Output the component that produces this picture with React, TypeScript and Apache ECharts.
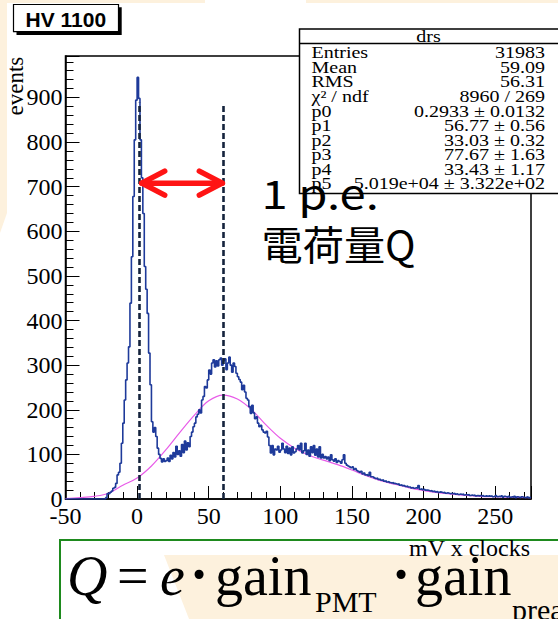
import { useEffect, useRef } from "react";
import * as echarts from "echarts";

// ---- histogram "drs" (bin width 1, from -50) ----
const binStart = -50;
const binWidth = 1;
const counts: number[] = [
  0, 0, 0, 0, 0, 0, 0, 0, 0, 0,
  0, 0, 0, 0, 0, 0, 0, 0, 0, 0,
  0, 0, 0, 0, 0, 0, 0, 0, 3, 12,
  12, 15, 18, 24, 26, 35, 54, 60, 80, 125,
  170, 222, 267, 305, 341, 439, 543, 678, 805, 894,
  945, 898, 805, 720, 640, 521, 470, 416, 327, 256,
  173, 150, 160, 140, 114, 100, 91, 83, 90, 84,
  86, 92, 84, 98, 90, 104, 94, 118, 100, 108,
  96, 122, 104, 130, 110, 126, 117, 140, 150, 162,
  170, 184, 190, 200, 193, 222, 230, 252, 249, 267,
  289, 280, 305, 312, 296, 310, 298, 312, 316, 300,
  310, 314, 290, 305, 318, 300, 284, 305, 297, 282,
  274, 268, 262, 245, 255, 240, 226, 222, 207, 192,
  210, 193, 180, 184, 170, 162, 165, 155, 150, 148,
  152, 139, 120, 103, 120, 99, 112, 110, 118, 105,
  110, 125, 112, 104, 118, 102, 114, 99, 117, 103,
  106, 112, 120, 110, 125, 103, 108, 125, 100, 110,
  96, 117, 104, 120, 98, 112, 94, 117, 92, 100,
  92, 95, 90, 94, 86, 99, 88, 85, 90, 82,
  86, 84, 80, 88, 99, 80, 76, 74, 72, 70,
  72, 66, 68, 64, 62, 60, 62, 56, 58, 54,
  55, 52, 60, 50, 50, 48, 46, 47, 44, 44,
  42, 43, 40, 41, 38, 39, 37, 36, 37, 35,
  34, 33, 34, 31, 32, 30, 30, 28, 29, 27,
  27, 25, 26, 24, 25, 24, 30, 22, 23, 21,
  22, 20, 20, 19, 18, 19, 17, 18, 16, 17,
  15, 16, 15, 14, 15, 13, 14, 13, 12, 13,
  12, 13, 11, 12, 10, 11, 10, 11, 9, 10,
  9, 10, 8, 9, 8, 9, 7, 8, 7, 8,
  7, 8, 6, 7, 6, 7, 6, 7, 5, 6,
  8, 5, 6, 5, 7, 4, 6, 5, 4, 6,
  4, 5, 4, 6, 3, 5, 4, 3, 5, 4,
  3, 4, 5, 3, 4,
];

// ---- fit curve ----
const fitX = [-50, -40, -30, -20, -10, 0, 10, 20, 30, 40, 50, 60, 70, 80, 90, 100, 110,
  120, 130, 140, 150, 160, 170, 180, 190, 200, 210, 220, 230, 240, 250, 260, 275];
const fitY = [1, 3, 6, 13, 31, 47, 74, 110, 150, 188, 220, 233, 224, 200, 166, 136, 114,
  98, 87, 77, 65, 52, 41, 33, 25, 19, 14, 11, 8, 6, 5, 4, 3];

// ---- axes ----
const xMin = -50, xMax = 275, xStep = 50;
const yMin = 0, yMax = 993, yStep = 100;
const xTickLabels = [-50, 0, 50, 100, 150, 200, 250];
const yTickLabels = [0, 100, 200, 300, 400, 500, 600, 700, 800, 900];

// ---- annotations ----
const peakX = [1.5, 60];
const peakTop = [888, 882];
const arrowFrom = 3.2;
const arrowTo = 59.5;
const arrowLevel = 708;

// ---- stats box ----
const statTitle = "drs";
const statLabels = ["Entries", "Mean", "RMS", "χ² / ndf", "p0", "p1", "p2", "p3", "p4", "p5"];
const statValues = ["31983", "59.09", "56.31", "8960 / 269", "0.2933 ± 0.0132", "56.77 ± 0.56",
  "33.03 ± 0.32", "77.67 ± 1.63", "33.43 ± 1.17", "5.019e+04 ± 3.322e+02"];

const serif = "Liberation Serif, serif";
const cjk = "Noto Sans CJK JP, sans-serif";
const beige = "#fdf1dd";

export default function App() {
  const ref = useRef<HTMLDivElement>(null);
  useEffect(() => {
    const chart = echarts.init(ref.current!, null, { renderer: "svg" });
    const hist: number[][] = counts.map((c, i) => [binStart + i * binWidth, c]);
    hist.push([binStart + counts.length * binWidth, counts[counts.length - 1]]);
    const fit = fitX.map((x, i) => [x, fitY[i]]);

    const axisCommon = {
      splitLine: { show: false },
      axisLine: { onZero: false, lineStyle: { color: "#000", width: 1.5 } },
      axisLabel: { show: false },
    };

    chart.setOption({
      animation: false,
      backgroundColor: "#ffffff",
      grid: { left: 65.5, right: 27, top: 56, bottom: 120, show: true, borderColor: "#000", borderWidth: 1.5 },
      xAxis: {
        type: "value", min: xMin, max: xMax, interval: xStep, ...axisCommon,
        axisTick: { inside: true, length: 13, lineStyle: { color: "#000", width: 1 } },
        minorTick: { show: true, splitNumber: 5, length: 7, lineStyle: { color: "#000", width: 1 } },
      },
      yAxis: {
        type: "value", min: yMin, max: yMax, interval: yStep, ...axisCommon,
        axisTick: { inside: true, length: 14, lineStyle: { color: "#000", width: 1 } },
        minorTick: { show: true, splitNumber: 5, length: 8, lineStyle: { color: "#000", width: 1 } },
      },
      series: [
        {
          type: "line", name: "fit", data: fit, smooth: 0.35, symbol: "none",
          lineStyle: { color: "#e85ce8", width: 1.2 }, z: 2,
        },
        {
          type: "line", name: "drs", data: hist, step: "end", symbol: "none",
          lineStyle: { color: "#1e3a9a", width: 1.6 }, z: 3,
          markLine: {
            silent: true, symbol: ["none", "none"], label: { show: false },
            lineStyle: { color: "#15233d", width: 2.6, type: [6, 3] },
            data: peakX.map((x, i) => [{ coord: [x, 0] }, { coord: [x, peakTop[i]] }]),
          },
        },
      ],
    });

    const toPx = (x: number, y: number) => chart.convertToPixel({ xAxisIndex: 0, yAxisIndex: 0 }, [x, y]) as number[];
    const [ax, ay] = toPx(arrowFrom, arrowLevel);
    const [bx] = toPx(arrowTo, arrowLevel);
    const [gx0, gy0] = toPx(xMin, yMin);

    const g: any[] = [];
    // slide background pieces
    g.push({ type: "polygon", silent: true, z: 0, shape: { points: [[0, 0], [7, 0], [7, 213], [0, 233]] }, style: { fill: beige } });
    g.push({ type: "rect", silent: true, z: 0, shape: { x: 0, y: 0, width: 205, height: 3 }, style: { fill: beige } });
    g.push({ type: "rect", silent: true, z: 0, shape: { x: 306, y: 0, width: 252, height: 3 }, style: { fill: beige } });
    g.push({ type: "polygon", silent: true, z: 0, shape: { points: [[164, 555], [558, 555], [558, 619], [189, 619]] }, style: { fill: beige } });
    g.push({ type: "rect", silent: true, z: 1, shape: { x: 60, y: 540, width: 520, height: 120 }, style: { fill: "none", stroke: "#1e8a1e", lineWidth: 2 } });

    // tick labels (positions from the axis scales)
    xTickLabels.forEach((v) => {
      const [px] = toPx(v, yMin);
      g.push({ type: "text", z: 12, style: { text: String(v), x: px, y: gy0 + 17, textAlign: "center", textVerticalAlign: "middle", font: `24px ${serif}`, fill: "#000" } });
    });
    yTickLabels.forEach((v) => {
      const [, py] = toPx(xMin, v);
      g.push({ type: "text", z: 12, style: { text: String(v), x: gx0 - 3, y: py, textAlign: "right", textVerticalAlign: "middle", font: `24px ${serif}`, fill: "#000" } });
    });

    // HV 1100 label
    g.push({ type: "rect", z: 10, shape: { x: 16.5, y: 7.3, width: 105.2, height: 27.7 }, style: { fill: "#000" } });
    g.push({ type: "rect", z: 11, shape: { x: 13.5, y: 4.5, width: 105, height: 27.2 }, style: { fill: "#fff", stroke: "#000", lineWidth: 1.2 } });
    g.push({ type: "text", z: 12, style: { text: "HV 1100", x: 65.8, y: 19.2, textAlign: "center", textVerticalAlign: "middle", font: "bold 21px Liberation Sans, Arial, sans-serif", fill: "#000" } });

    // axis titles
    g.push({ type: "text", z: 12, x: 15.5, y: 56.7, rotation: Math.PI / 2, style: { text: "events", x: 0, y: 0, textAlign: "right", textVerticalAlign: "middle", font: `23px ${serif}`, fill: "#000" } });
    g.push({ type: "text", z: 12, style: { text: "mV x clocks", x: 530, y: 548, textAlign: "right", textVerticalAlign: "middle", font: `24px ${serif}`, fill: "#000" } });

    // stats box
    g.push({ type: "rect", z: 50, shape: { x: 299.5, y: 29, width: 262, height: 164.5 }, style: { fill: "#fff", stroke: "#000", lineWidth: 1.5 } });
    g.push({ type: "line", z: 51, shape: { x1: 299.5, y1: 43.5, x2: 562, y2: 43.5 }, style: { stroke: "#000", lineWidth: 1.5 } });
    g.push({ type: "text", z: 52, x: 428.5, y: 37, scaleY: 0.8, style: { text: statTitle, x: 0, y: 0, textAlign: "center", textVerticalAlign: "middle", font: `20px ${serif}`, fill: "#000" } });
    statLabels.forEach((lab, i) => {
      const yy = 53 + i * 14.55;
      g.push({ type: "text", z: 52, x: 311.5, y: yy, scaleY: 0.8, style: { text: lab, x: 0, y: 0, textAlign: "left", textVerticalAlign: "middle", font: `20px ${serif}`, fill: "#000" } });
      g.push({ type: "text", z: 52, x: 545, y: yy, scaleY: 0.8, style: { text: statValues[i], x: 0, y: 0, textAlign: "right", textVerticalAlign: "middle", font: `20px ${serif}`, fill: "#000" } });
    });

    // annotation texts
    g.push({ type: "text", z: 60, x: 261.5, y: 192, scaleX: 1.18, style: { text: "1 p.e.", x: 0, y: 0, textAlign: "left", textVerticalAlign: "middle", font: `40px ${cjk}`, fill: "#000" } });
    g.push({ type: "text", z: 60, x: 261.5, y: 243, scaleX: 1.03, style: { text: "電荷量Q", x: 0, y: 0, textAlign: "left", textVerticalAlign: "middle", font: `40px ${cjk}`, fill: "#000" } });

    // red double arrow
    const red = "#ff1414";
    g.push({ type: "line", z: 40, shape: { x1: ax, y1: ay, x2: bx, y2: ay }, style: { stroke: red, lineWidth: 5.5, lineCap: "round" } });
    g.push({ type: "polyline", z: 40, shape: { points: [[ax + 23, ay - 12], [ax, ay], [ax + 23, ay + 12]] }, style: { stroke: red, lineWidth: 5.5, lineCap: "round", lineJoin: "round", fill: "none" } });
    g.push({ type: "polyline", z: 40, shape: { points: [[bx - 23, ay - 12], [bx, ay], [bx - 23, ay + 12]] }, style: { stroke: red, lineWidth: 5.5, lineCap: "round", lineJoin: "round", fill: "none" } });

    // equation
    const eq = (text: string, x: number, y: number, size: number, italic = false, align = "left", weight = "") => ({
      type: "text", z: 20,
      style: { text, x, y, textAlign: align, textVerticalAlign: "middle", font: `${italic ? "italic " : ""}${weight ? weight + " " : ""}${size}px ${serif}`, fill: "#000" },
    });
    g.push(eq("Q", 67, 576, 56, true));
    g.push(eq("=", 117, 576, 56));
    g.push(eq("e", 160, 576, 56, true));
    g.push(eq("·", 199, 574, 56, false, "center", "bold"));
    g.push(eq("gain", 215, 576, 56));
    g.push(eq("PMT", 315, 601, 30));
    g.push(eq("·", 401, 574, 56, false, "center", "bold"));
    g.push(eq("gain", 415, 576, 56));
    g.push(eq("prea", 512, 609, 30));

    chart.setOption({ graphic: { elements: g } });
    return () => chart.dispose();
  }, []);
  return <div ref={ref} style={{ position: "fixed", left: 0, top: 0, width: 558, height: 619, background: "#fff" }} />;
}
